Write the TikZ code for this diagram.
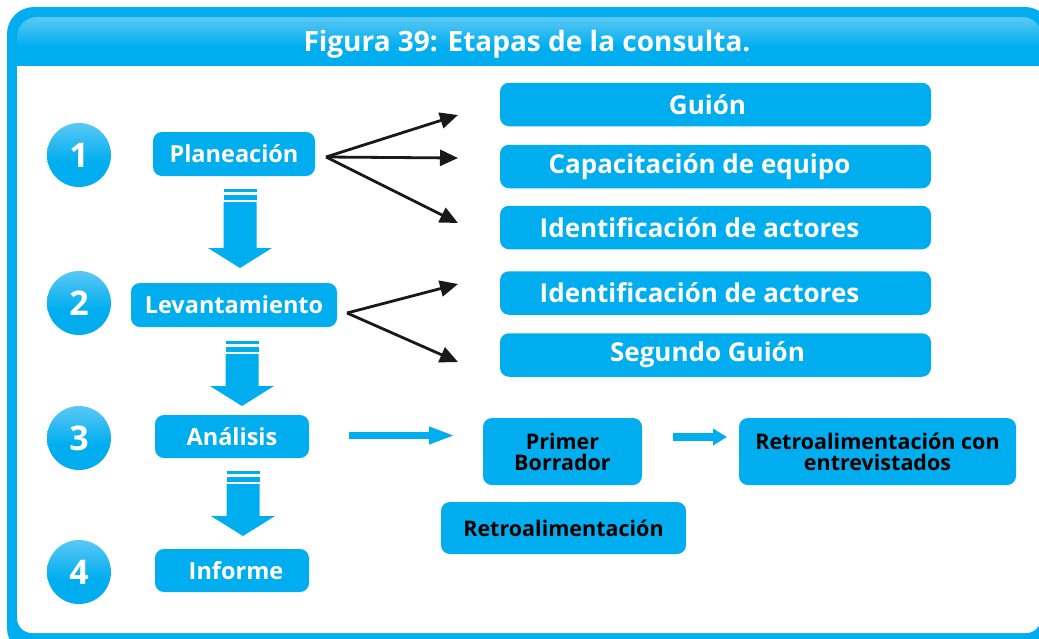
\documentclass[tikz,border=0pt]{standalone}
\usepackage{fontspec}
\setmainfont{Open Sans}
\usetikzlibrary{arrows.meta}
\definecolor{cy}{HTML}{00AEEF}
\definecolor{lcy}{HTML}{A6DEF8}
\pgfdeclareverticalshading{glossy}{100bp}{color(0bp)=(cy); color(45bp)=(cy); color(100bp)=(lcy)}
\tikzset{
  stage/.style={fill=cy, rounded corners=9pt, text=white, inner sep=0pt, font=\bfseries\fontsize{23.5}{26}\selectfont},
  rbox/.style={fill=cy, rounded corners=9pt, text=white, inner sep=0pt, minimum width=431pt, minimum height=43.5pt, font=\bfseries\fontsize{26}{30}\selectfont},
  dbox/.style={fill=cy, rounded corners=9pt, text=black, inner sep=0pt, align=center, font=\bfseries\fontsize{21.5}{21}\selectfont},
  numtxt/.style={text=white, font=\bfseries\fontsize{34}{38}\selectfont},
  blk/.style={line width=2.8pt, black!90, -{Triangle[length=18pt,width=16pt]}},
}
\newcommand\dnarrow[3]{%
  \fill[cy] (#1-16.5,#2) rectangle (#1+16.5,#2+3);
  \fill[cy] (#1-16.5,#2+6) rectangle (#1+16.5,#2+11);
  \fill[cy] (#1-16.5,#2+13) -- (#1+16.5,#2+13) -- (#1+16.5,#3-20) -- (#1+32,#3-20) -- (#1,#3) -- (#1-32,#3-20) -- (#1-16.5,#3-20) -- cycle;
}
\begin{document}
\begin{tikzpicture}[x=1pt,y=-1pt]
\useasboundingbox (0,0) rectangle (1039,638);
\clip (0,0) rectangle (1039,638);
% frame
\fill[cy, rounded corners=27pt] (7,7) rectangle (1052,655);
\shade[shading=glossy, rounded corners=20pt] (17,17) -- (17,66) -- (1042,66) [sharp corners] -- (1042,40) [rounded corners=20pt] -- (1042,17) -- cycle;
\fill[white, rounded corners=15pt] (17,66) -- (17,633) -- (1041,633) -- (1041,66) [sharp corners] -- cycle;
\fill[white] (17,66) rectangle (1041,90);
\node[text=white, font=\bfseries\fontsize{28}{32}\selectfont] (title) at (527,44) {Figura 39: Etapas de la consulta.};
% number circles
\foreach \n/\y in {1/155,2/303,3/438,4/572}{
  \shade[shading=glossy] (79,\y) circle (32pt);
  \node[numtxt] (num\n) at (79,\y) {\n};
}
% stage boxes
\node[stage, minimum width=162pt, minimum height=44pt] (plan) at (234,154) {Planeación};
\node[stage, minimum width=206pt, minimum height=44pt] (lev) at (234,305) {Levantamiento};
\node[stage, minimum width=154pt, minimum height=43pt] (ana) at (232,436.5) {Análisis};
\node[stage, minimum width=154pt, minimum height=43pt] (inf) at (232,570.5) {\hspace*{8pt}Informe};
% down arrows
\dnarrow{240}{189}{268}
\dnarrow{242}{341}{406}
\dnarrow{243}{471}{536}
% right boxes
\node[rbox] (guion) at (715.5,104.5) {\hspace*{-16pt}Guión};
\node[rbox] (cap) at (715.5,166.5) {\hspace*{-32pt}Capacitación de equipo};
\node[rbox] (id1) at (715.5,227.5) {\hspace*{-32pt}Identificación de actores};
\node[rbox] (id2) at (715.5,293) {\hspace*{-32pt}Identificación de actores};
\node[rbox] (seg) at (715.5,355) {\hspace*{-16pt}Segundo Guión};
% black arrows
\coordinate (o1) at (326,157);
\coordinate (t1a) at (458,115);
\coordinate (t1b) at (458,158);
\coordinate (t1c) at (458,223);
\draw[blk] (o1) -- (t1a);
\draw[blk] (o1) -- (t1b);
\draw[blk] (o1) -- (t1c);
\coordinate (o2) at (347,313);
\coordinate (t2a) at (458,284);
\coordinate (t2b) at (458,362);
\draw[blk] (o2) -- (t2a);
\draw[blk] (o2) -- (t2b);
% analysis row
\node[dbox, minimum width=159pt, minimum height=67pt] (prim) at (562.5,451.5) {Primer\\Borrador};
\node[dbox, minimum width=277pt, minimum height=67pt] (retc) at (877.5,451.5) {Retroalimentación con\\entrevistados};
\node[dbox, minimum width=245pt, minimum height=52pt] (retro) at (563.5,528) {Retroalimentación};
\coordinate (a1s) at (349,435.5);
\coordinate (a1e) at (455,435.5);
\draw[cy, line width=7pt, -{Triangle[length=26pt,width=16pt]}] (a1s) -- (a1e);
\coordinate (a2s) at (673,437);
\coordinate (a2e) at (727,437);
\draw[cy, line width=8pt, -{Triangle[length=14pt,width=16pt]}] (a2s) -- (a2e);
\end{tikzpicture}
\end{document}
